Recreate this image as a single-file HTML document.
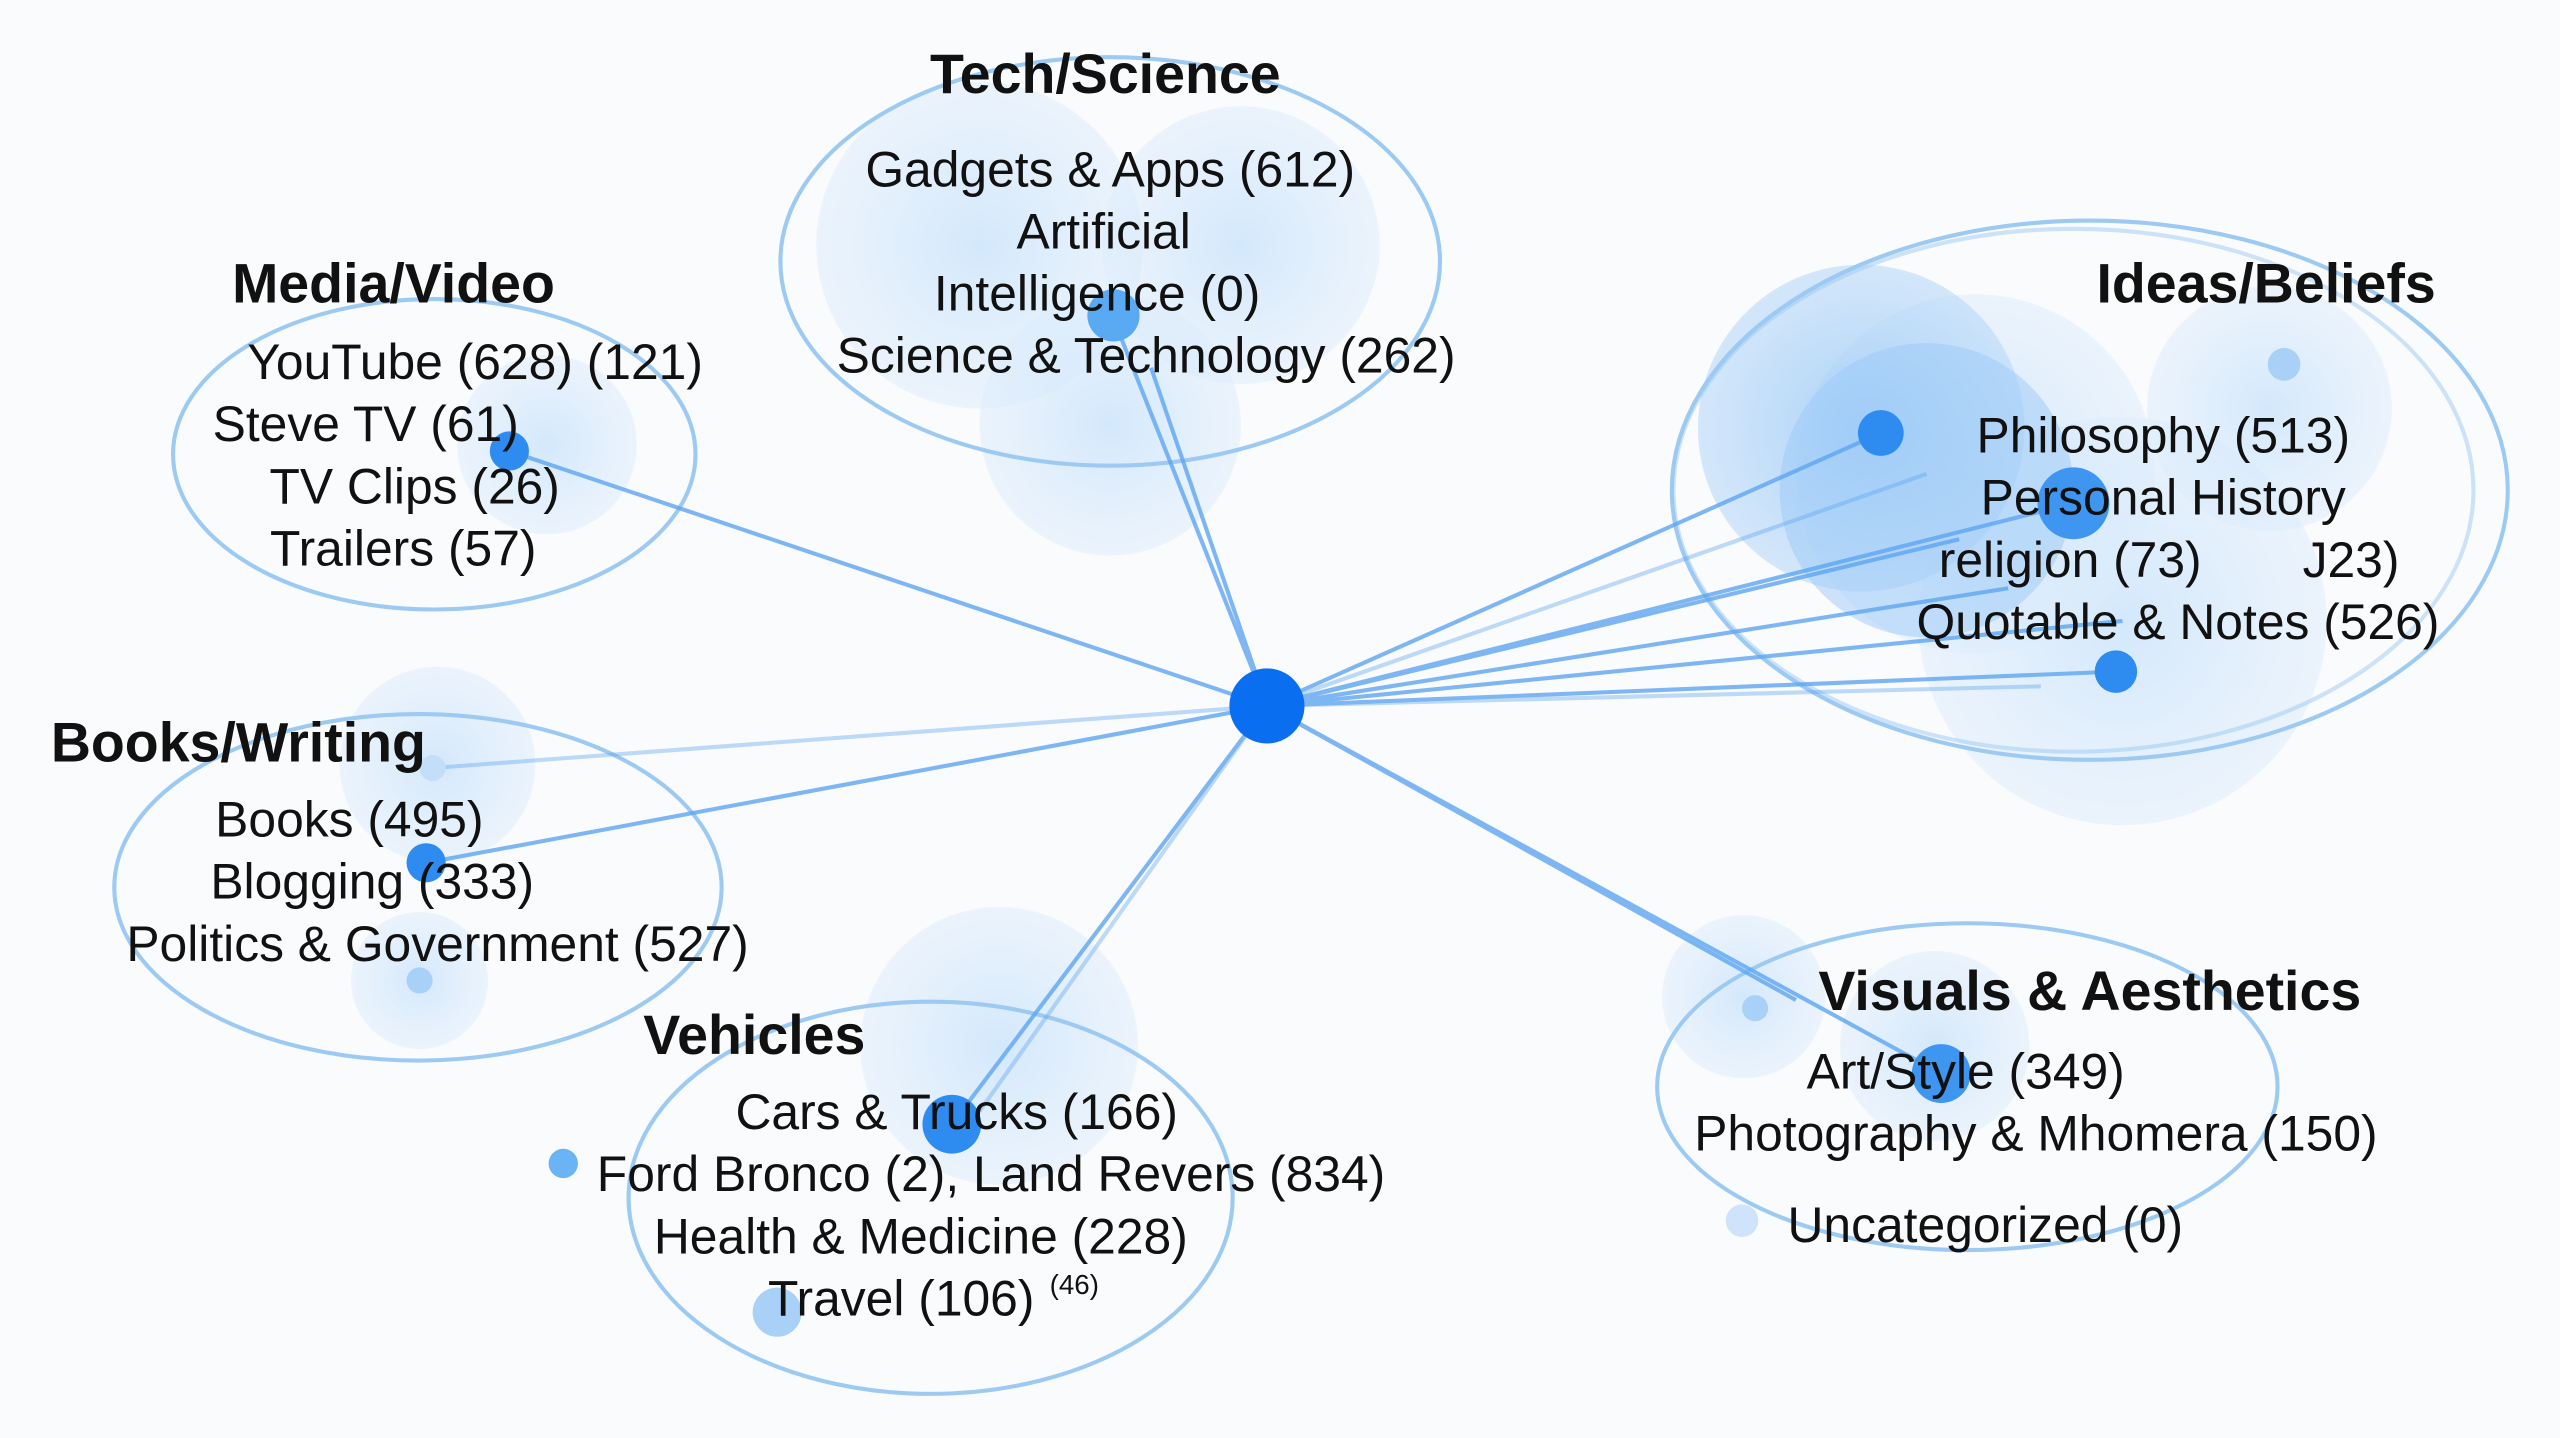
<!DOCTYPE html>
<html><head><meta charset="utf-8"><style>
html,body{margin:0;padding:0;background:#fafbfc;}
svg{display:block;}
text{font-family:"Liberation Sans",sans-serif;fill:#111;}
.t{font-weight:bold;font-size:34px;}
.l{font-size:30.5px;}
</style></head><body>
<svg width="2560" height="1438" viewBox="0 0 1568 880" preserveAspectRatio="none">
<defs>
<radialGradient id="g" cx="50%" cy="50%" r="50%">
<stop offset="0%" stop-color="#cfe6fc" stop-opacity="0.9"/><stop offset="100%" stop-color="#dcecfb" stop-opacity="0.5"/></radialGradient>
<radialGradient id="gd" cx="50%" cy="50%" r="50%">
<stop offset="0%" stop-color="#8cc2f6" stop-opacity="0.9"/><stop offset="100%" stop-color="#b5d7f8" stop-opacity="0.7"/></radialGradient>
</defs>
<rect width="1568" height="880" fill="#fafbfc"/>
<g fill="url(#g)">
<circle cx="600" cy="150" r="100"/><circle cx="760" cy="150" r="85"/><circle cx="680" cy="260" r="80"/>
<circle cx="335" cy="272" r="55"/>
<circle cx="1300" cy="380" r="125"/><circle cx="1390" cy="250" r="75"/><circle cx="1210" cy="290" r="110"/>
<circle cx="268" cy="468" r="60"/><circle cx="257" cy="600" r="42"/>
<circle cx="612" cy="640" r="85"/>
<circle cx="1068" cy="610" r="50"/><circle cx="1185" cy="640" r="58"/>
</g>
<circle cx="1140" cy="262" r="100" fill="url(#gd)" opacity="0.8"/>
<circle cx="1180" cy="300" r="90" fill="#9ccaf7" opacity="0.5"/>
<g fill="none" stroke="#9ccaf3" stroke-width="2.5">
<ellipse cx="680" cy="160" rx="202" ry="125"/>
<ellipse cx="266" cy="278" rx="160" ry="95"/>
<ellipse cx="1280" cy="300" rx="256" ry="165"/>
<ellipse cx="1270" cy="300" rx="245" ry="160" stroke-opacity="0.5"/>
<ellipse cx="256" cy="543" rx="186" ry="106"/>
<ellipse cx="570" cy="733" rx="185" ry="120"/>
<ellipse cx="1205" cy="665" rx="190" ry="100"/>
</g>
<g stroke="#5ea6f2" stroke-width="2.5" opacity="0.8">
<line x1="776" y1="432" x2="312" y2="276"/>
<line x1="776" y1="432" x2="682" y2="195"/>
<line x1="776" y1="432" x2="705" y2="225"/>
<line x1="776" y1="432" x2="1152" y2="265"/>
<line x1="776" y1="432" x2="1270" y2="308"/>
<line x1="776" y1="432" x2="1296" y2="411"/>
<line x1="776" y1="432" x2="1200" y2="330"/>
<line x1="776" y1="432" x2="1230" y2="360"/>
<line x1="776" y1="432" x2="1300" y2="380"/>
<line x1="776" y1="432" x2="1180" y2="290" stroke-opacity="0.5"/>
<line x1="776" y1="432" x2="1250" y2="420" stroke-opacity="0.5"/>
<line x1="776" y1="432" x2="261" y2="528"/>
<line x1="776" y1="432" x2="265" y2="470" stroke-opacity="0.5"/>
<line x1="776" y1="432" x2="583" y2="688"/>
<line x1="776" y1="432" x2="600" y2="680" stroke-opacity="0.5"/>
<line x1="776" y1="432" x2="1189" y2="657"/>
<line x1="776" y1="432" x2="1100" y2="612"/>
</g>
<g fill="#2e8cf0">
<circle cx="312" cy="276" r="12"/><circle cx="682" cy="193" r="16" fill="#5aa9f3"/>
<circle cx="1152" cy="265" r="14"/><circle cx="1270" cy="308" r="22" fill="#3f96f1"/><circle cx="1296" cy="411" r="13"/>
<circle cx="261" cy="528" r="12"/><circle cx="583" cy="688" r="18"/>
<circle cx="1189" cy="657" r="18" fill="#3f96f1"/>
<circle cx="345" cy="712" r="9" fill="#6ab3f5"/>
</g>
<g fill="#a9d0f7">
<circle cx="1399" cy="223" r="10"/><circle cx="476" cy="803" r="15"/>
<circle cx="1075" cy="617" r="8"/><circle cx="1067" cy="747" r="10" fill="#cfe4fa"/>
<circle cx="257" cy="600" r="8"/><circle cx="265" cy="470" r="8" fill="#c5def8"/>
</g>
<circle cx="776" cy="432" r="23" fill="#0a6ef0"/>
<g text-anchor="middle">
<text class="t" x="677" y="57">Tech/Science</text>
<text class="l" x="680" y="114">Gadgets &amp; Apps (612)</text>
<text class="l" x="676" y="152">Artificial</text>
<text class="l" x="672" y="190">Intelligence (0)</text>
<text class="l" x="702" y="228">Science &amp; Technology (262)</text>

<text class="t" x="241" y="185">Media/Video</text>
<text class="l" x="291" y="232">YouTube (628) (121)</text>
<text class="l" x="224" y="270">Steve TV (61)</text>
<text class="l" x="254" y="308">TV Clips (26)</text>
<text class="l" x="247" y="346">Trailers (57)</text>

<text class="t" x="1388" y="185">Ideas/Beliefs</text>
<text class="l" x="1325" y="277">Philosophy (513)</text>
<text class="l" x="1325" y="315">Personal History</text>
<text class="l" x="1268" y="353">religion (73)</text>
<text class="l" x="1440" y="353">J23)</text>
<text class="l" x="1334" y="391">Quotable &amp; Notes (526)</text>

<text class="t" x="146" y="466">Books/Writing</text>
<text class="l" x="214" y="512">Books (495)</text>
<text class="l" x="228" y="550">Blogging (333)</text>
<text class="l" x="268" y="588">Politics &amp; Government (527)</text>

<text class="t" x="462" y="645">Vehicles</text>
<text class="l" x="586" y="691">Cars &amp; Trucks (166)</text>
<text class="l" x="607" y="729">Ford Bronco (2), Land Revers (834)</text>
<text class="l" x="564" y="767">Health &amp; Medicine (228)</text>
<text class="l" x="552" y="805">Travel (106)</text>
<text x="658" y="792" font-size="17">(46)</text>

<text class="t" x="1280" y="618">Visuals &amp; Aesthetics</text>
<text class="l" x="1204" y="666">Art/Style (349)</text>
<text class="l" x="1247" y="704">Photography &amp; Mhomera (150)</text>
<text class="l" x="1216" y="760">Uncategorized (0)</text>
</g>
</svg>
</body></html>
